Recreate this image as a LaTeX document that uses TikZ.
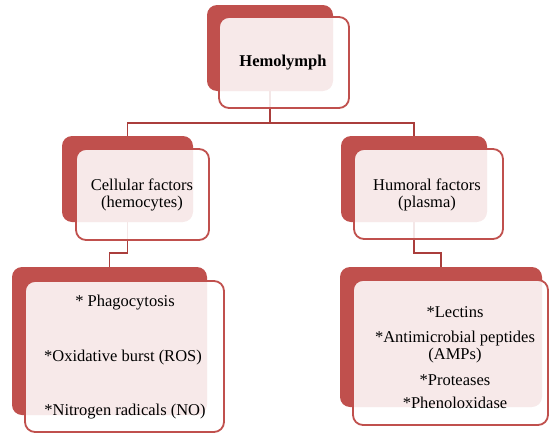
\documentclass[tikz,border=0pt]{standalone}
\usepackage{fontspec}
\setmainfont{Liberation Serif}
\usetikzlibrary{positioning}
\definecolor{accentRed}{RGB}{192,80,77}
\definecolor{linkRed}{RGB}{170,62,60}

\begin{document}
\begin{tikzpicture}[x=1pt, y=-1pt,
  every node/.style={font=\fontsize{16.5}{17}\selectfont, inner sep=0pt},
  back/.style={fill=accentRed, rounded corners=10pt},
  front/.style={draw=accentRed, line width=1.8pt, fill=white, fill opacity=0.88,
                rounded corners=10pt},
  link/.style={draw=linkRed, line width=1.8pt},
  txt/.style={align=center},
]
\useasboundingbox (0,0) rectangle (549,434);

% Back plates
\node[back, minimum width=126pt, minimum height=86pt] (hemoBack) at (270,48) {};
\node[back, minimum width=131pt, minimum height=86pt] (cellBack) at (127.5,179) {};
\node[back, minimum width=146pt, minimum height=86pt] (humBack) at (414,179) {};
\node[back, minimum width=195pt, minimum height=148pt] (cellListBack) at (109.5,341) {};
\node[back, minimum width=202pt, minimum height=140pt] (humListBack) at (441,337) {};

% Connectors
\draw[link] (hemoBack.south) -- ++(0,32) coordinate (hemoJoin) -| (cellBack.north);
\draw[link] (hemoJoin) -| (humBack.north);
\draw[link] (cellBack.south) -- ++(0,31) -| (cellListBack.north);
\draw[link] (humBack.south) -- ++(0,31) -| (humListBack.north);

% Front boxes
\node[front, minimum width=130pt, minimum height=91pt] (hemo) at (284,62.5) {};
\node[front, minimum width=133pt, minimum height=91pt] (cell) at (142.5,194.5) {};
\node[front, minimum width=149pt, minimum height=90pt] (hum) at (428.5,194) {};
\node[front, minimum width=199pt, minimum height=151pt] (cellList) at (124.5,356.5) {};
\node[front, minimum width=195pt, minimum height=145pt] (humList) at (450.5,352.5) {};

% Texts
\node[txt, font=\fontsize{16.5}{17}\selectfont\bfseries] (hemoText) at (283,63) {Hemolymph};
\node[txt] (cellText) at (142,195) {Cellular factors\\(hemocytes)};
\node[txt] (humText) at (427,195) {Humoral factors\\(plasma)};

\node[txt] (phago) at (125,303) {* Phagocytosis};
\node[txt] (oxid) at (123,358) {*Oxidative burst (ROS)};
\node[txt] (nitro) at (125,412) {*Nitrogen radicals (NO)};

\node[txt] (lectin) at (455,312) {*Lectins};
\node[txt] (amp) at (455,347.5) {*Antimicrobial peptides\\(AMPs)};
\node[txt] (protease) at (455,380) {*Proteases};
\node[txt] (pheno) at (455,403) {*Phenoloxidase};

\end{tikzpicture}
\end{document}
